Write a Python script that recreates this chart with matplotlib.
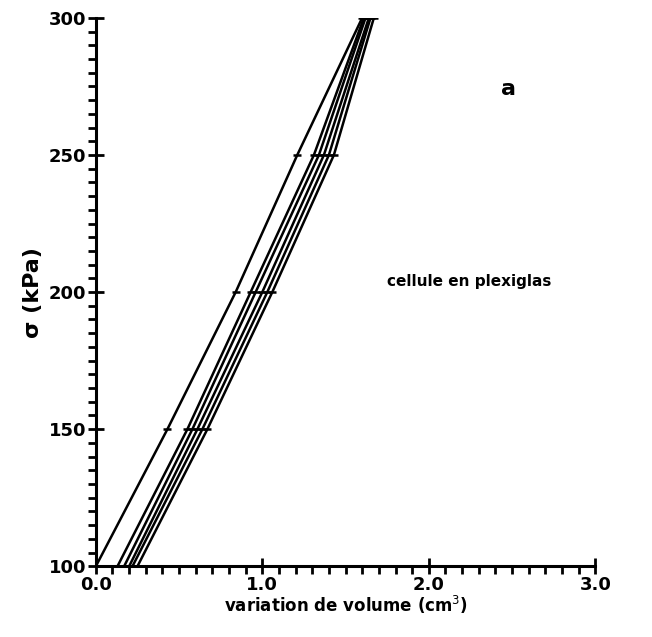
import matplotlib
matplotlib.use("Agg")
import matplotlib.pyplot as plt
from matplotlib.ticker import MultipleLocator

# sigma levels (kPa)
sigma = [100, 150, 200, 250, 300]

# volume variation (cm3) for each test
vol_1 = [0.00, 0.43, 0.84, 1.21, 1.60]
vol_2 = [0.13, 0.55, 0.93, 1.31, 1.61]
vol_3 = [0.17, 0.58, 0.96, 1.34, 1.62]
vol_4 = [0.20, 0.61, 1.00, 1.37, 1.64]
vol_5 = [0.22, 0.64, 1.03, 1.40, 1.65]
vol_6 = [0.25, 0.67, 1.06, 1.43, 1.67]
series = [vol_1, vol_2, vol_3, vol_4, vol_5, vol_6]

x_ticks = [0.0, 1.0, 2.0, 3.0]
y_ticks = [100, 150, 200, 250, 300]

plt.rcParams['font.family'] = ['DejaVu Sans']
fig = plt.figure(figsize=(6.52, 6.37), dpi=100)
ax = fig.add_axes([0.147, 0.111, 0.766, 0.861])

for v in series:
    ax.plot(v, sigma, color='black', lw=1.8, marker='_', markersize=6,
            markeredgewidth=1.8)

ax.set_xlim(0, 3.0)
ax.set_ylim(100, 300)
ax.spines['top'].set_visible(False)
ax.spines['right'].set_visible(False)
ax.spines['left'].set_linewidth(2.2)
ax.spines['bottom'].set_linewidth(2.2)

ax.set_xticks(x_ticks, ['%.1f' % t for t in x_ticks], fontweight='bold')
ax.set_yticks(y_ticks, [str(t) for t in y_ticks], fontweight='bold')
ax.xaxis.set_minor_locator(MultipleLocator(0.1))
ax.yaxis.set_minor_locator(MultipleLocator(5))
ax.tick_params(which='major', direction='inout', length=12, width=2, labelsize=13, pad=1)
ax.tick_params(which='minor', direction='out', length=6, width=2)

ax.set_xlabel('variation de volume (cm$^3$)', fontsize=12, fontweight='bold', labelpad=0)
ax.set_ylabel('σ (kPa)', fontsize=16, fontweight='bold', labelpad=4)

ax.text(2.48, 274, 'a', fontsize=16, fontweight='bold', ha='center', va='center')
ax.text(2.24, 204, 'cellule en plexiglas', fontsize=11, fontweight='bold',
        ha='center', va='center')

fig.savefig('out.png', dpi=100)
